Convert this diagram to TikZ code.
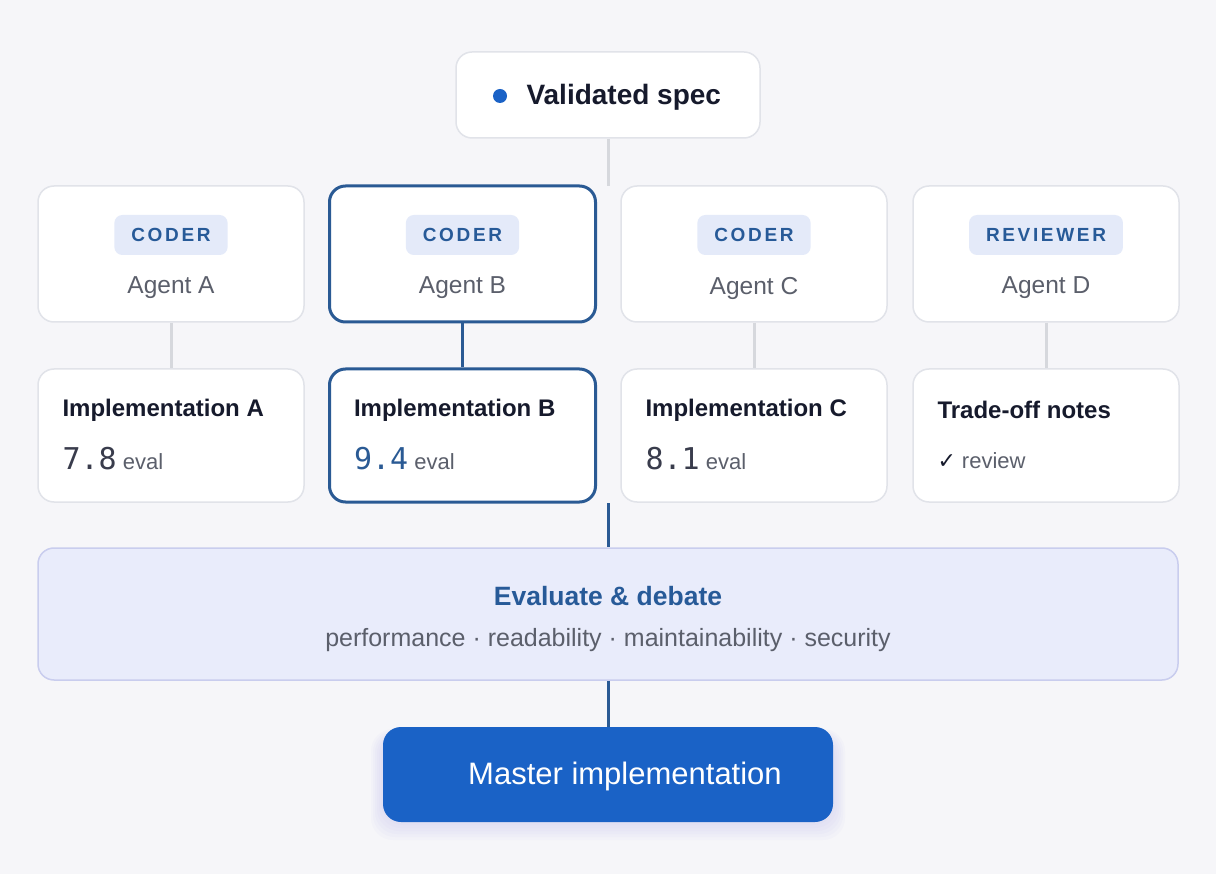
\documentclass[tikz,border=0pt]{standalone}
\usepackage{fontspec}
\setmainfont{Liberation Sans}
\setmonofont{DejaVu Sans Mono}
\newfontfamily\symfont{DejaVu Sans}
\definecolor{bgc}{HTML}{F6F6F9}
\definecolor{cardline}{HTML}{E1E3E9}
\definecolor{ink}{HTML}{161A2C}
\definecolor{muted}{HTML}{5B5F6B}
\definecolor{badgefill}{HTML}{E4EAF9}
\definecolor{badgeink}{HTML}{275A98}
\definecolor{accent}{HTML}{2A5A94}
\definecolor{wire}{HTML}{D6D8DD}
\definecolor{evalfill}{HTML}{E9ECFB}
\definecolor{evalline}{HTML}{C9CDEE}
\definecolor{master}{HTML}{1A62C6}
\definecolor{glow}{HTML}{B9B4F0}
\begin{document}
\begin{tikzpicture}[x=1pt,y=-1pt,
  card/.style={draw=cardline, fill=white, line width=1.5pt, rounded corners=16pt,
    minimum width=266pt, minimum height=136pt, inner sep=0pt},
  implcard/.style={card, minimum height=133pt},
  picked/.style={draw=accent, line width=3pt},
  badge/.style={fill=badgefill, rounded corners=8pt, minimum height=40pt, inner xsep=17pt,
    text=badgeink, font=\fontsize{19}{19}\selectfont\bfseries\addfontfeature{LetterSpace=14}},
  agentname/.style={text=muted, font=\fontsize{24.5}{24.5}\selectfont},
  impltitle/.style={anchor=west, text=ink, font=\fontsize{24}{24}\selectfont\bfseries},
  score/.style={anchor=base west, text=muted, font=\fontsize{22}{22}\selectfont},
  link/.style={draw=wire, line width=3pt},
  bluelink/.style={draw=accent, line width=3pt}]
\fill[bgc] (0,0) rectangle (1216,874);
\useasboundingbox (0,0) rectangle (1216,874);
% spec
\node[card, minimum width=304pt, minimum height=86pt] (spec) at (608,95) {};
\fill[master] (500,96) circle (7pt);
\node[anchor=west, text=ink, font=\fontsize{28}{28}\selectfont\bfseries] (spectxt) at (523,97) {Validated spec};
\coordinate (fork) at (608,186);
\draw[link] (spec) -- (fork);
% agents
\node[card] (agA) at (171,254) {};
\node[card, picked] (agB) at (462.5,254) {};
\node[card] (agC) at (754,254) {};
\node[card] (agD) at (1046,254) {};
\node[badge] (bA) at (171,235) {CODER};
\node[badge] (bB) at (462.5,235) {CODER};
\node[badge] (bC) at (754,235) {CODER};
\node[badge] (bD) at (1046,235) {REVIEWER};
\node[agentname] (nA) at (171,288) {Agent A};
\node[agentname] (nB) at (462.5,288) {Agent B};
\node[agentname] (nC) at (754,288) {Agent C};
\node[agentname] (nD) at (1046,288) {Agent D};
% implementations
\node[implcard] (imA) at (171,435.5) {};
\node[implcard, picked] (imB) at (462.5,435.5) {};
\node[implcard] (imC) at (754,435.5) {};
\node[implcard] (imD) at (1046,435.5) {};
\draw[link] (agA) -- (imA);
\draw[bluelink] (agB) -- (imB);
\draw[link] (agC) -- (imC);
\draw[link] (agD) -- (imD);
\node[impltitle] (tA) at (59,410) {Implementation A};
\node[impltitle] (tB) at (350.5,410) {Implementation B};
\node[impltitle] (tC) at (642,410) {Implementation C};
\node[impltitle] (tD) at (934,410) {Trade-off notes};
\node[score] (sA) at (59,470) {{\fontsize{30}{30}\selectfont\ttfamily\color{ink!85}7.8} eval};
\node[score] (sB) at (350.5,470) {{\fontsize{30}{30}\selectfont\ttfamily\color{accent}9.4} eval};
\node[score] (sC) at (642,470) {{\fontsize{30}{30}\selectfont\ttfamily\color{ink!85}8.1} eval};
\node[score] (sD) at (934,468) {{\symfont\bfseries\color{ink}✓}\hspace{6pt}review};
% evaluate
\coordinate (merge) at (608,503);
\node[draw=evalline, fill=evalfill, line width=1.5pt, rounded corners=16pt,
  minimum width=1140pt, minimum height=132pt] (eval) at (608,614) {};
\draw[bluelink] (merge) -- (eval);
\node[text=badgeink, font=\fontsize{26.5}{26.5}\selectfont\bfseries] (evt) at (608,596) {Evaluate \& debate};
\node[text=muted, font=\fontsize{25}{25}\selectfont] (evs) at (608,640) {performance · readability · maintainability · security};
% master, with a soft glow under it
\foreach \g in {1,...,6}
  \fill[glow, opacity=0.06, rounded corners=22pt] (383-2*\g,735-\g) rectangle (833+2*\g,822+3*\g);
\node[fill=master, rounded corners=18pt, minimum width=450pt, minimum height=95pt] (mst) at (608,774.5) {};
\draw[bluelink] (eval) -- (mst);
\node[text=white, font=\fontsize{31}{31}\selectfont] (mtxt) at (625,776) {Master implementation};
\end{tikzpicture}
\end{document}
